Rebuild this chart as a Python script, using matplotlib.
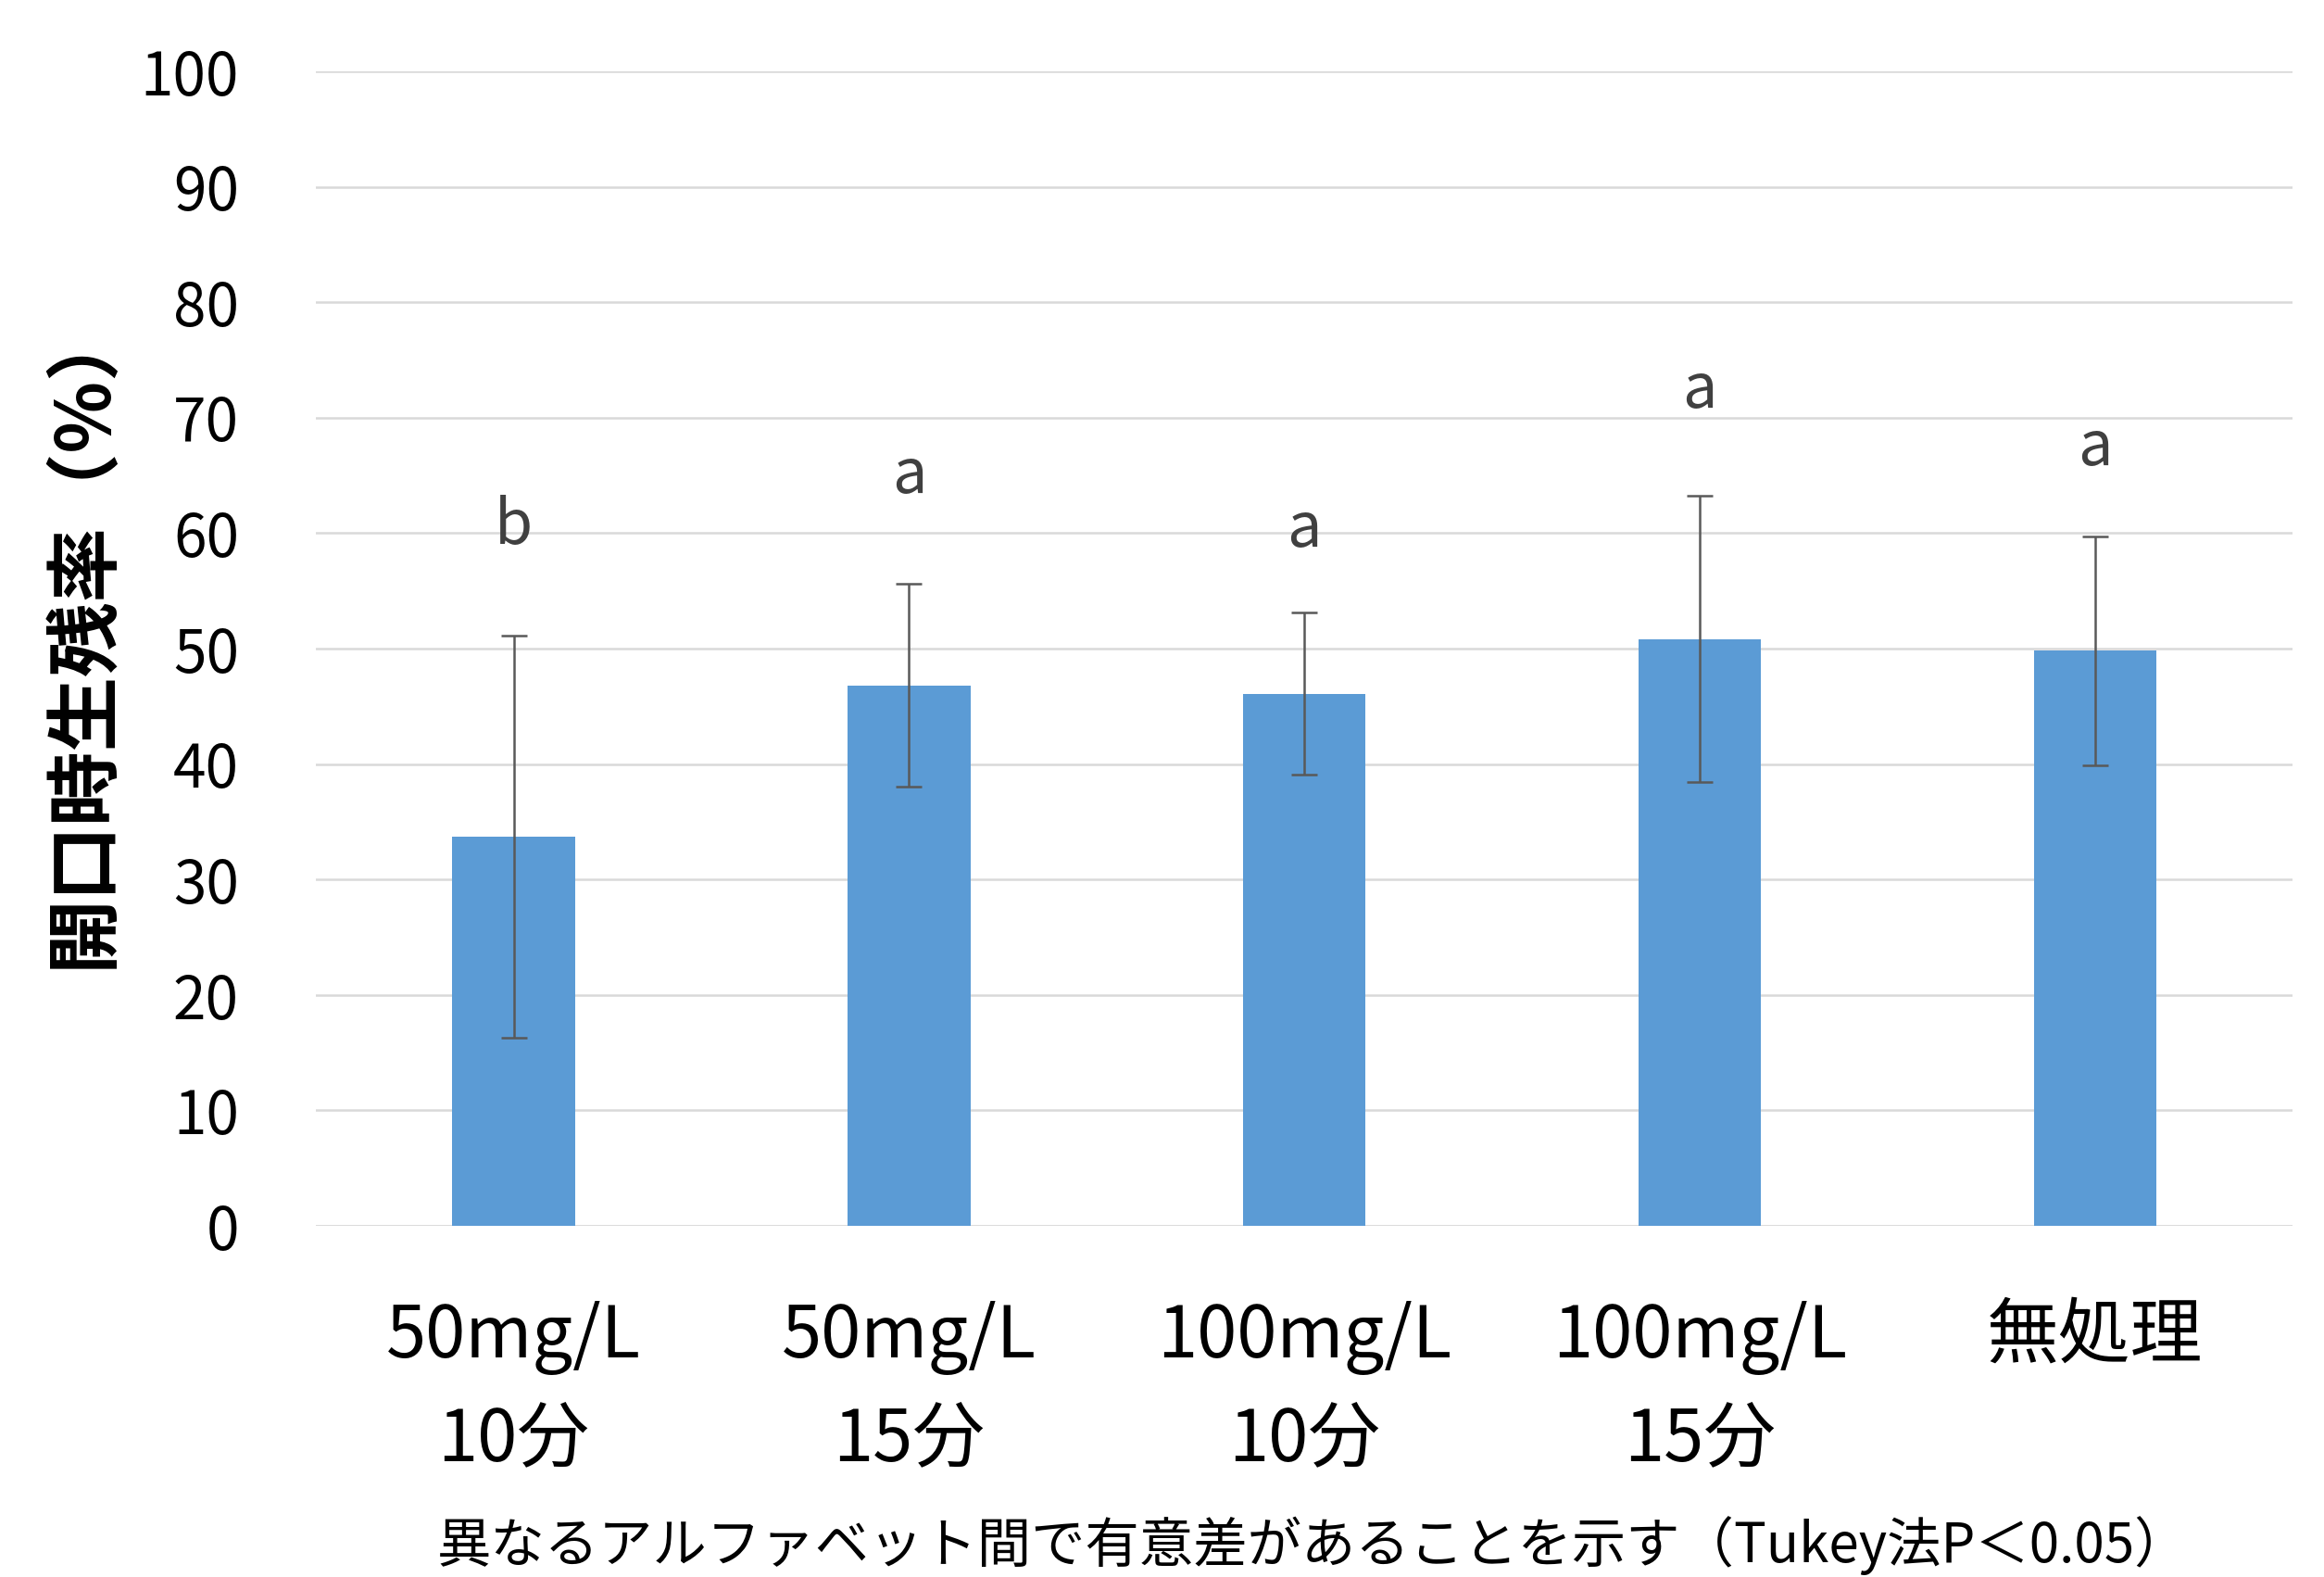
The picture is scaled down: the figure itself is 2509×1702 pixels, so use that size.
import matplotlib
matplotlib.use("Agg")
import matplotlib.pyplot as plt
import numpy as np

plt.rcParams['font.family'] = ['Noto Sans CJK JP', 'DejaVu Sans']

categories = ["50mg/L\n10分", "50mg/L\n15分", "100mg/L\n10分", "100mg/L\n15分", "無処理"]
means = [33.7, 46.8, 46.1, 50.8, 49.8]
errors = [17.4, 8.8, 7.0, 12.4, 9.9]
letters = ["b", "a", "a", "a", "a"]
letter_y = [60.6, 65.0, 60.3, 72.4, 67.4]
yticks = [0, 10, 20, 30, 40, 50, 60, 70, 80, 90, 100]
ylabel = "開口時生残率（%）"
caption = "異なるアルファベット間で有意差があることを示す（Tukey法P＜0.05）"

fig = plt.figure(figsize=(25.09, 17.02), dpi=100)
ax = fig.add_axes([0.136, 0.2227, 0.8505, 0.7321])

x = np.arange(len(categories))
ax.bar(x, means, width=0.31, color="#5B9BD5", zorder=3)
ax.errorbar(x, means, yerr=errors, fmt="none", ecolor="#595959",
            elinewidth=1.8, capsize=10, capthick=1.8, zorder=4)

for xi, lab, ly in zip(x, letters, letter_y):
    ax.text(xi, ly, lab, ha="center", va="center", fontsize=48, color="#404040")

ax.set_xlim(-0.5, len(categories) - 0.5)
ax.set_ylim(0, 100)
ax.set_yticks(yticks)
ax.set_yticklabels([str(v) for v in yticks])
ax.set_xticks(x)
ax.set_xticklabels(categories, linespacing=1.5)
ax.yaxis.grid(True, color="#D9D9D9", linewidth=1.8, zorder=0)
ax.set_axisbelow(True)
for s in ax.spines.values():
    s.set_visible(False)
ax.axhline(0, color="#D9D9D9", linewidth=1.8, zorder=1)
ax.tick_params(axis="both", length=0)
ax.tick_params(axis="y", labelsize=46, pad=60, labelcolor="#000000")
ax.tick_params(axis="x", labelsize=56, pad=58, labelcolor="#000000")

fig.text(0.036, 0.598, ylabel, rotation=90, ha="center", va="center",
         fontsize=58, fontweight="bold")
fig.text(0.565, 0.02, caption, ha="center", va="center", fontsize=42)

fig.savefig("out.png", dpi=100)
